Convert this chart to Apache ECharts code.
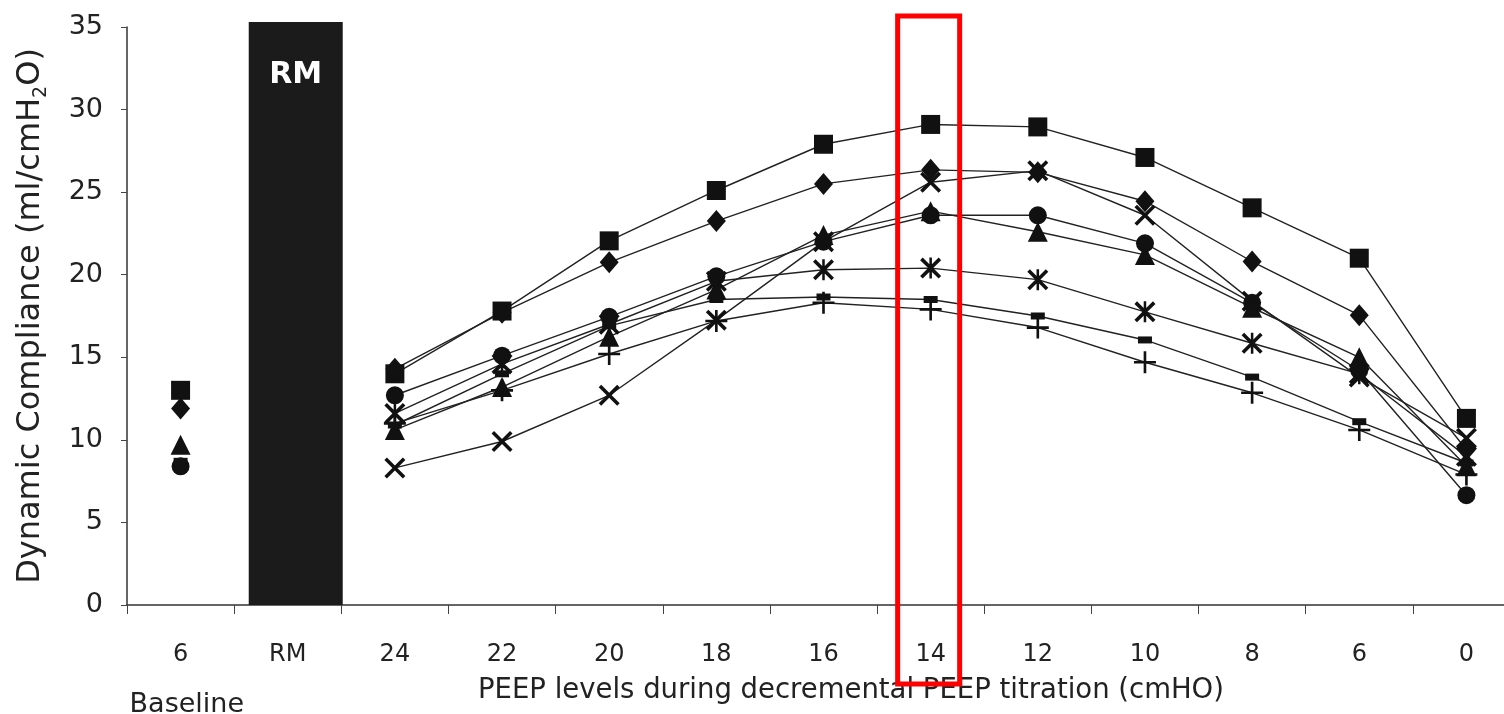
<!DOCTYPE html>
<html>
<head>
<meta charset="utf-8">
<script src="https://cdn.jsdelivr.net/npm/echarts@6/dist/echarts.min.js"></script>
<style>html,body{margin:0;padding:0;background:#fff;}#c{width:1504px;height:714px;}</style>
</head>
<body>
<div id="c"></div>
<script>
// Categories (x axis)
var categories = ['6','RM','24','22','20','18','16','14','12','10','8','6','0'];
var yTicks = [0,5,10,15,20,25,30,35];
// Recruitment manoeuvre bar (value at RM category only)
var rmBar = [null, 35.3, null, null, null, null, null, null, null, null, null, null, null];
// Series values: [baseline, RM, 24,22,20,18,16,14,12,10,8,6,0]
var squareS   = [13.0, null, 14.0, 17.8, 22.05, 25.1, 27.9, 29.1, 28.95, 27.1, 24.05, 21.0, 11.3];
var diamondS  = [11.9, null, 14.3, 17.7, 20.75, 23.25, 25.5, 26.35, 26.2, 24.45, 20.8, 17.55, 9.4];
var triangleS = [9.7, null, 10.6, 13.2, 16.25, 19.1, 22.4, 23.85, 22.6, 21.2, 18.0, 15.0, 8.4];
var circleS   = [8.4, null, 12.7, 15.1, 17.45, 19.9, 22.0, 23.6, 23.6, 21.9, 18.3, 14.2, 6.65];
var crossS    = [null, null, 8.3, 9.9, 12.7, 17.25, 22.0, 25.6, 26.3, 23.6, 18.4, 13.8, 10.1];
var asteriskS = [null, null, 11.6, 14.6, 17.0, 19.6, 20.3, 20.4, 19.7, 17.75, 15.85, 14.0, 9.0];
var plusS     = [null, null, 11.0, 13.0, 15.2, 17.2, 18.3, 17.9, 16.8, 14.7, 12.85, 10.6, 7.9];
var dashS     = [8.7, null, 10.9, 14.0, 16.9, 18.5, 18.65, 18.5, 17.5, 16.05, 13.8, 11.1, 8.6];
var highlightIndex = 7; // '14'

var FONT = 'DejaVu Sans';
var INK = '#111';
var symX = 'path://M1.2,0L5,3.8L8.8,0L10,1.2L6.2,5L10,8.8L8.8,10L5,6.2L1.2,10L0,8.8L3.8,5L0,1.2Z';
var symAst = 'path://M1.2,0L5,3.8L8.8,0L10,1.2L6.2,5L10,8.8L8.8,10L5,6.2L1.2,10L0,8.8L3.8,5L0,1.2Z M4.4,0L5.6,0L5.6,10L4.4,10Z';
var symPlus = 'path://M4.4,0L5.6,0L5.6,4.4L10,4.4L10,5.6L5.6,5.6L5.6,10L4.4,10L4.4,5.6L0,5.6L0,4.4L4.4,4.4Z';
var symDash = 'path://M0,0L10,0L10,10L0,10Z';

function lineSeries(name, data, symbol, size) {
  return {
    name: name, type: 'line', data: data, symbol: symbol, symbolSize: size,
    showAllSymbol: true, connectNulls: false,
    lineStyle: { color: '#222', width: 1.4 },
    itemStyle: { color: INK, borderWidth: 0 },
    emphasis: { disabled: true }, z: 3
  };
}

var chart = echarts.init(document.getElementById('c'));
chart.setOption({
  animation: false,
  backgroundColor: '#fff',
  grid: { left: 127, width: 1393, top: 27, bottom: 109, containLabel: false, outerBoundsMode: 'none' },
  xAxis: {
    type: 'category', data: categories, boundaryGap: true,
    axisLine: { lineStyle: { color: '#333', width: 1.5 } },
    axisTick: { show: true, length: 9, lineStyle: { color: '#444' }, alignWithLabel: false },
    axisLabel: { color: '#222', fontFamily: FONT, fontSize: 24, margin: 38 },
    name: 'PEEP levels during decremental PEEP titration (cmHO)',
    nameLocation: 'middle', nameGap: 72,
    nameTextStyle: { color: '#222', fontFamily: FONT, fontSize: 27.5, padding: [0, 0, 0, 55] }
  },
  yAxis: {
    type: 'value', min: yTicks[0], max: yTicks[yTicks.length - 1], interval: 5,
    axisLine: { show: true, lineStyle: { color: '#333', width: 1.5 } },
    axisTick: { show: true, length: 6, lineStyle: { color: '#444' } },
    splitLine: { show: false },
    axisLabel: { color: '#222', fontFamily: FONT, fontSize: 27, margin: 24 },
    name: '{a|Dynamic Compliance (ml/cmH}{s|2}{a|O)}',
    nameLocation: 'middle', nameGap: 76, nameRotate: 90,
    nameTextStyle: {
      rich: {
        a: { color: '#222', fontFamily: FONT, fontSize: 32 },
        s: { color: '#222', fontFamily: FONT, fontSize: 19, verticalAlign: 'bottom', padding: [21, 0, 0, 0] }
      }
    }
  },
  series: [
    { type: 'bar', data: categories.map(function(){return null;}), barWidth: 16, barGap: '0%', silent: true },
    {
      type: 'bar', data: rmBar, barWidth: 94, clip: false, z: 1,
      itemStyle: { color: '#1b1b1b' },
      label: { show: true, position: 'insideTop', distance: 38, formatter: 'RM',
        color: '#fff', fontFamily: FONT, fontSize: 30, fontWeight: 'bold' },
      emphasis: { disabled: true }
    },
    lineSeries('square', squareS, 'rect', 19),
    lineSeries('diamond', diamondS, 'diamond', [19, 22]),
    lineSeries('triangle', triangleS, 'triangle', 20),
    lineSeries('circle', circleS, 'circle', 18),
    lineSeries('cross', crossS, symX, 21),
    lineSeries('asterisk', asteriskS, symAst, 21),
    lineSeries('plus', plusS, symPlus, 22),
    lineSeries('dash', dashS, symDash, [14, 7])
  ]
});

// Annotations placed from the axis scales
function drawExtras() {
  var cx = chart.convertToPixel({ xAxisIndex: 0 }, highlightIndex);
  var yTop = chart.convertToPixel({ yAxisIndex: 0 }, yTicks[yTicks.length - 1]);
  var yZero = chart.convertToPixel({ yAxisIndex: 0 }, 0);
  var bx = chart.convertToPixel({ xAxisIndex: 0 }, 0);
  chart.setOption({
    graphic: [
      { type: 'rect', z: 10, silent: true,
        shape: { x: cx - 33, y: yTop - 11, width: 62, height: (yZero + 79) - (yTop - 11) },
        style: { fill: 'none', stroke: '#f00', lineWidth: 5 } },
      { type: 'text', z: 10, silent: true, x: bx - 51, y: yZero + 86,
        style: { text: 'Baseline', fill: '#222', font: '27px "DejaVu Sans"', textVerticalAlign: 'top' } }
    ]
  });
}
drawExtras();
</script>
</body>
</html>
